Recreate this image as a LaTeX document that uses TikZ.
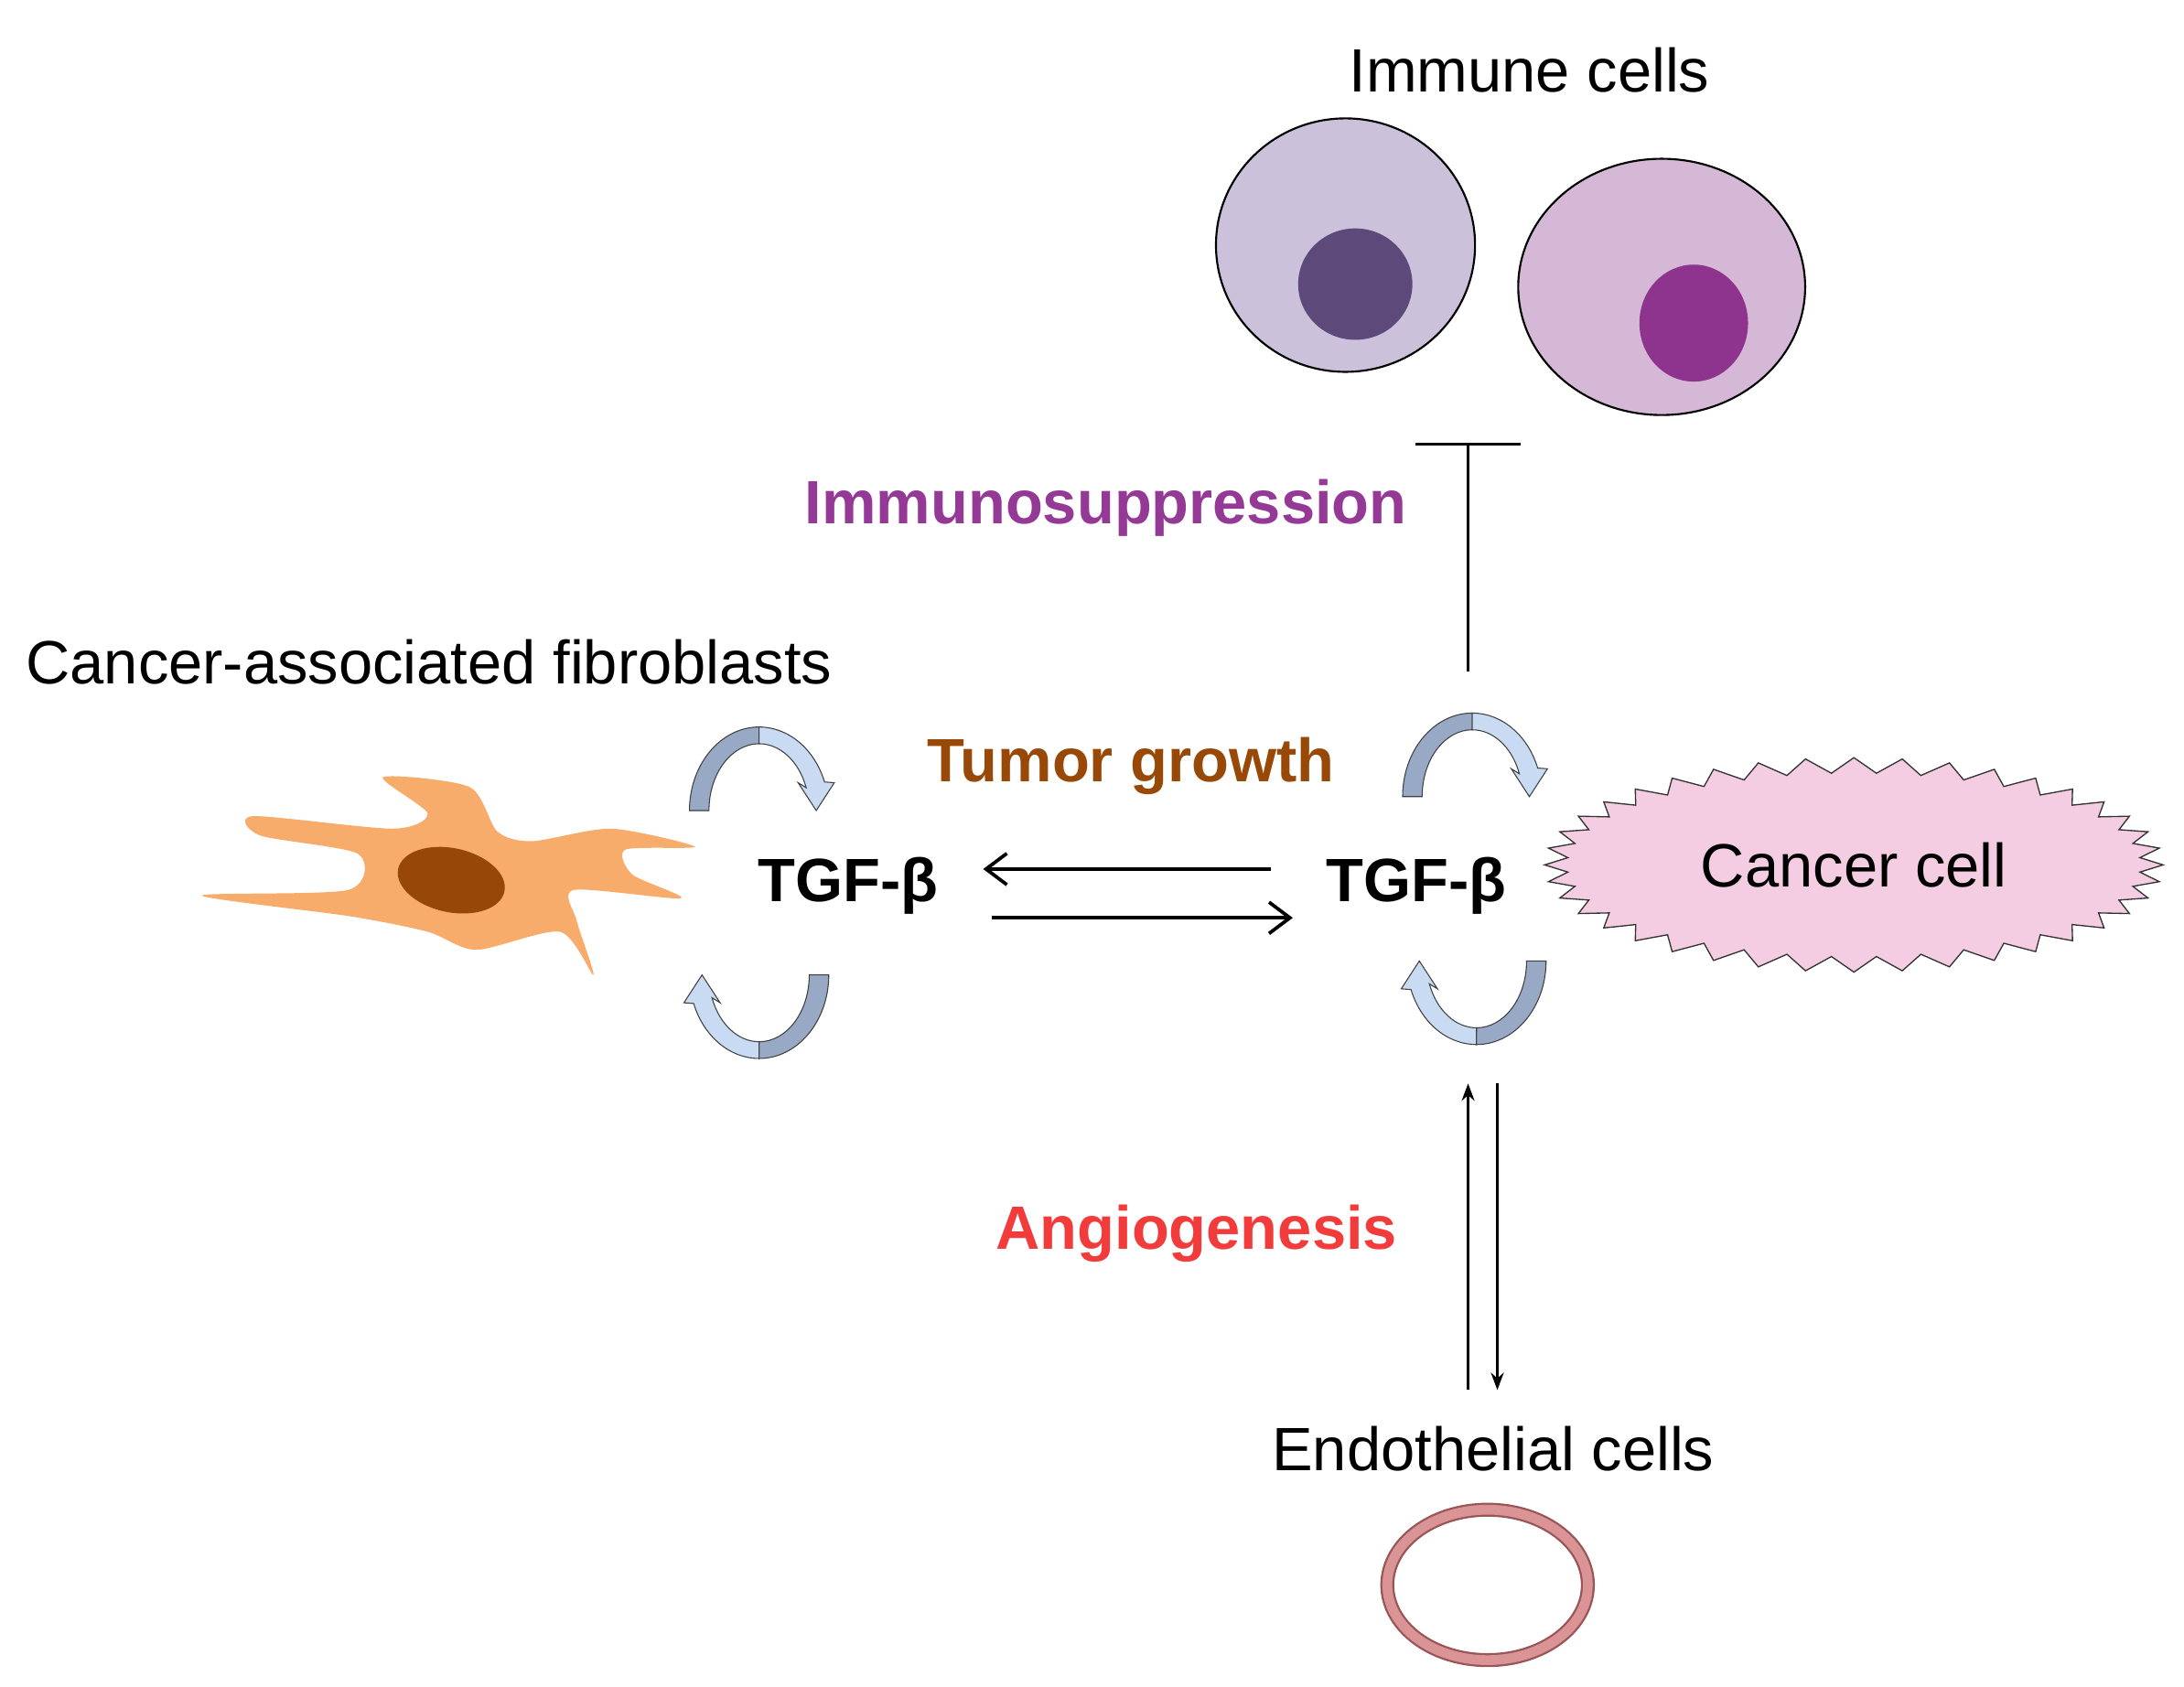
\documentclass[tikz,border=0pt]{standalone}
\usepackage{fontspec}
\setmainfont{Liberation Sans}
\usetikzlibrary{arrows.meta,positioning}

\definecolor{immuneA}{HTML}{CBC1DB}
\definecolor{immuneAn}{HTML}{5E4A7A}
\definecolor{immuneB}{HTML}{D5B8D6}
\definecolor{immuneBn}{HTML}{8E348F}
\definecolor{cafbody}{HTML}{F8AC6B}
\definecolor{cafnuc}{HTML}{974808}
\definecolor{cancerfill}{HTML}{F4CDE2}
\definecolor{loopdark}{HTML}{97A9C4}
\definecolor{looplight}{HTML}{C8DBF3}
\definecolor{suppr}{HTML}{943A96}
\definecolor{growth}{HTML}{984807}
\definecolor{angio}{HTML}{F23C3C}
\definecolor{vessel}{HTML}{DB9495}
\definecolor{vesseldark}{HTML}{9A5556}

\tikzset{
  lbl/.style={font=\fontsize{25}{30}\selectfont},
  bold lbl/.style={font=\fontsize{25}{30}\selectfont\bfseries},
  cell/.style={draw=black, line width=0.8pt},
  loop line/.style={draw=black!75, line width=0.4pt},
}

\newcommand{\loopArrow}{%
  \filldraw[loop line, fill=loopdark] (-50,0) arc[start angle=180, end angle=270, x radius=50, y radius=60]
    -- (0,-48) arc[start angle=270, end angle=180, x radius=36, y radius=48] -- cycle;
  \filldraw[loop line, fill=looplight] (0,-60) arc[start angle=270, end angle=340, x radius=50, y radius=60]
    -- (54,-20) -- (41,0) -- (28,-20) -- (33.8,-16.4) arc[start angle=340, end angle=270, x radius=36, y radius=48] -- cycle;
}

\begin{document}
\begin{tikzpicture}[x=0.2mm, y=-0.2mm, >=Stealth]
    \useasboundingbox (0,0) rectangle (1568,1211);

    % immune cells
    \filldraw[cell, fill=immuneA] (966,176) ellipse [x radius=93, y radius=91];
    \fill[immuneAn] (973,204) ellipse [x radius=41, y radius=40];
    \filldraw[cell, fill=immuneB] (1193,206) ellipse [x radius=103, y radius=92];
    \fill[immuneBn] (1216,232) ellipse [x radius=39, y radius=42];
    \node[lbl] (immune) at (1098,50) {Immune cells};

    % fibroblast
    \fill[cafbody] plot[smooth cycle, tension=0.45] coordinates {
      (145,643) (250,639) (257,613) (187,600) (182,586) (282,595) (307,584)
      (275,558) (337,565) (357,597) (382,604) (439,595) (499,608) (449,610)
      (454,628) (489,645) (412,639) (414,661) (426,700) (402,669) (342,682)
      (307,669) (252,658)};
    \fill[cafnuc, rotate around={-12:(324,632)}] (324,632) ellipse [x radius=39, y radius=23];
    \node[lbl] (caf) at (308,475) {Cancer-associated fibroblasts};

    % cancer cell
    \filldraw[draw=black!80, line width=0.5pt, fill=cancerfill] (1553,621)
      \foreach \a in {4.5,9,...,355.5} {
        -- ({1331+(222-16*mod(round(\a/4.5),2))*cos(\a)}, {621+(77-11*mod(round(\a/4.5),2))*sin(\a)})
      } -- cycle;
    \node[lbl] (cancer) at (1331,621) {Cancer cell};

    % TGF-beta
    \node[bold lbl] (tgfL) at (609,636) {TGF-β};
    \node[bold lbl] (tgfR) at (1017,636) {TGF-β};
    \draw[-{Straight Barb[length=3mm,width=4.5mm]}, line width=1.4pt, shorten <=6.8mm, shorten >=5.2mm]
      ([yshift=2.4mm]tgfR.west) -- ([yshift=2.4mm]tgfL.east);
    \draw[-{Straight Barb[length=3mm,width=4.5mm]}, line width=1.4pt, shorten <=6.4mm, shorten >=3.6mm]
      ([yshift=-4.6mm]tgfL.east) -- ([yshift=-4.6mm]tgfR.west);

    % autocrine loops
    \begin{scope}[shift={(545,582)}] \loopArrow \end{scope}
    \begin{scope}[shift={(545,700)}, rotate=180] \loopArrow \end{scope}
    \begin{scope}[shift={(1057,572)}] \loopArrow \end{scope}
    \begin{scope}[shift={(1060,690)}, rotate=180] \loopArrow \end{scope}

    % effects
    \node[bold lbl, text=suppr] (supp) at (794,365) {Immunosuppression};
    \node[bold lbl, text=growth] (growth) at (812,550) {Tumor growth};
    \node[bold lbl, text=angio] (angio) at (859,886) {Angiogenesis};

    % inhibition
    \coordinate (inhS) at (1054,482);
    \coordinate (inhE) at (1054,318);
    \draw[line width=1.2pt, -{Bar[width=15mm]}] (inhS) -- (inhE);

    % endothelial cells
    \node[lbl] (endo) at (1072,1040) {Endothelial cells};
    \coordinate (upS) at (1054,998);
    \coordinate (upE) at (1054,778);
    \coordinate (dnS) at (1075,778);
    \coordinate (dnE) at (1075,998);
    \draw[->, line width=0.9pt] (upS) -- (upE);
    \draw[->, line width=0.9pt] (dnS) -- (dnE);
    \draw[vesseldark, line width=2mm] (1068,1138) ellipse [x radius=72, y radius=54];
    \draw[vessel, line width=1.4mm] (1068,1138) ellipse [x radius=72, y radius=54];
\end{tikzpicture}
\end{document}
